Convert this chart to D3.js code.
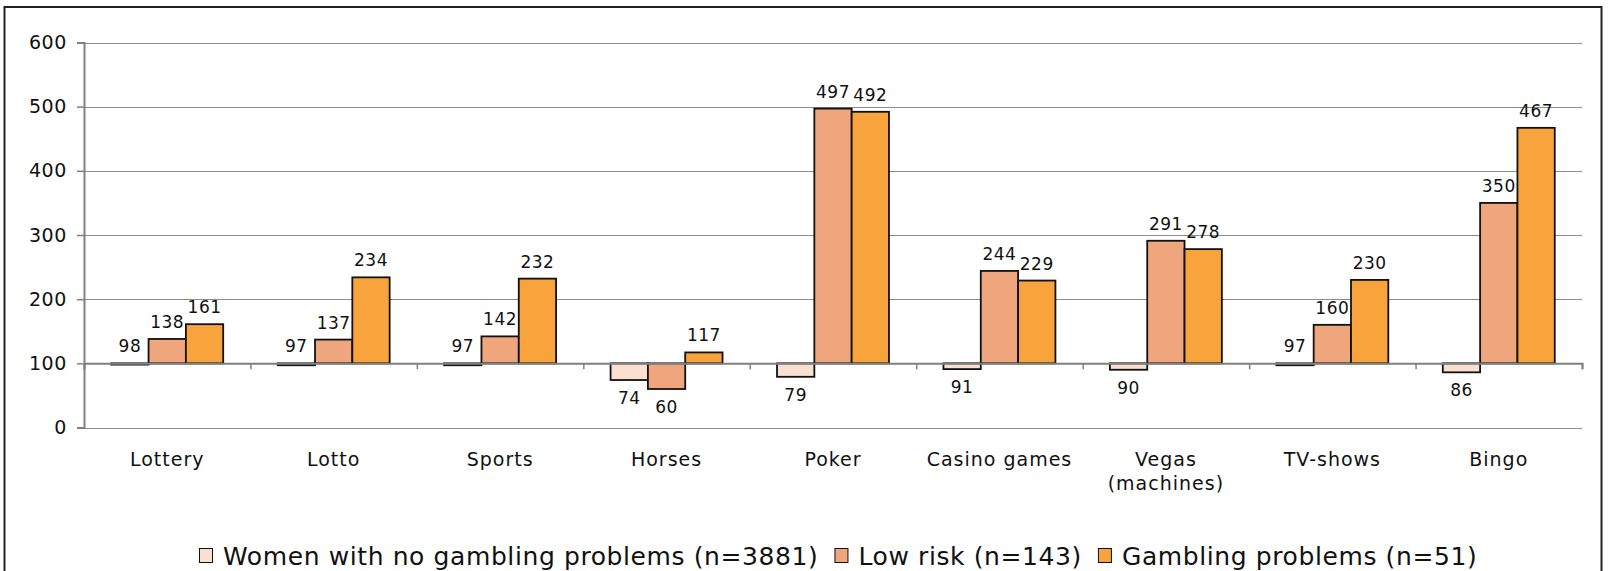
<!DOCTYPE html>
<html>
<head>
<meta charset="utf-8">
<script src="https://cdn.jsdelivr.net/npm/d3@7"></script>
<style>
  html, body { margin: 0; padding: 0; background: #fff; }
  svg { display: block; font-family: "DejaVu Sans", Verdana, sans-serif; }
</style>
</head>
<body>
<svg id="chart" width="1609" height="571"></svg>
<script>
// Gambling activity index by group (100 = baseline)
const categories = ["Lottery", "Lotto", "Sports", "Horses", "Poker", "Casino games", "Vegas\n(machines)", "TV-shows", "Bingo"];
const seriesNames = ["Women with no gambling problems (n=3881)", "Low risk (n=143)", "Gambling problems (n=51)"];
const noProblems = [98, 97, 97, 74, 79, 91, 90, 97, 86];
const lowRisk = [138, 137, 142, 60, 497, 244, 291, 160, 350];
const gamblingProblems = [161, 234, 232, 117, 492, 229, 278, 230, 467];
const yTicks = [0, 100, 200, 300, 400, 500, 600];
const baseline = 100;

const seriesValues = [noProblems, lowRisk, gamblingProblems];
const colors = ["#FBE0D2", "#EFA67C", "#F9A33D"];

const svg = d3.select("#chart");
const plot = { left: 84, right: 1582, top: 42.5, bottom: 427.5 };

// outer frame (open at the bottom edge of the view)
svg.append("rect")
  .attr("x", 4.5).attr("y", 7).attr("width", 1597).attr("height", 600)
  .attr("fill", "none").attr("stroke", "#222").attr("stroke-width", 2);

const x0 = d3.scaleBand().domain(d3.range(categories.length))
  .range([plot.left, plot.right]).paddingInner(0).paddingOuter(0);
const x1 = d3.scaleBand().domain(d3.range(seriesValues.length))
  .range([0, x0.bandwidth()]).paddingInner(0).paddingOuter(0.73);
const y = d3.scaleLinear().domain([0, 600]).range([plot.bottom, plot.top]);

// gridlines
svg.append("g").selectAll("line")
  .data(yTicks.filter(t => t !== baseline))
  .join("line")
  .attr("x1", plot.left).attr("x2", plot.right)
  .attr("y1", d => Math.round(y(d)) + 0.5).attr("y2", d => Math.round(y(d)) + 0.5)
  .attr("stroke", "#8c8c8c").attr("stroke-width", 1);

// y axis
const yAxis = svg.append("g")
  .attr("transform", `translate(${plot.left},0)`)
  .call(d3.axisLeft(y).tickValues(yTicks).tickSize(7).tickPadding(10).tickFormat(d3.format("d")));
yAxis.select(".domain").attr("stroke", "#808080").attr("stroke-width", 2);
yAxis.selectAll(".tick line").attr("stroke", "#808080").attr("stroke-width", 1.5);
yAxis.selectAll(".tick text")
  .attr("fill", "#111")
  .style("font-size", "19px")
  .style("letter-spacing", "0.6px")
  .style("font-family", "DejaVu Sans, Verdana, sans-serif");

// bars drawn from the baseline of 100
const groups = svg.append("g").selectAll("g")
  .data(categories.map((c, i) => ({ c, i })))
  .join("g")
  .attr("transform", d => `translate(${x0(d.i)},0)`);

const barData = d => seriesValues.map((vals, s) => ({ s, v: vals[d.i] }));

groups.selectAll("rect")
  .data(barData)
  .join("rect")
  .attr("x", d => x1(d.s))
  .attr("width", x1.bandwidth())
  .attr("y", d => y(Math.max(d.v, baseline)))
  .attr("height", d => Math.max(Math.abs(y(d.v) - y(baseline)), 0.01))
  .attr("fill", d => colors[d.s])
  .attr("stroke", "#111").attr("stroke-width", 1.8);

// horizontal axis crossing at 100
const xb = d3.scaleLinear().domain([0, categories.length]).range([plot.left, plot.right]);
const xAxis = svg.append("g")
  .attr("transform", `translate(0,${y(baseline)})`)
  .call(d3.axisBottom(xb).ticks(categories.length).tickSize(6).tickFormat(""));
xAxis.select(".domain").attr("stroke", "#808080").attr("stroke-width", 2);
xAxis.selectAll(".tick line").attr("stroke", "#808080").attr("stroke-width", 1.5);

// value labels: above the bar, or below it when the bar drops clearly under 100
groups.selectAll("text.val")
  .data(barData)
  .join("text")
  .attr("class", "val")
  .attr("x", d => x1(d.s) + x1.bandwidth() / 2)
  .attr("y", d => {
    const h = y(baseline) - y(d.v);
    if (h > -3) return y(Math.max(d.v, baseline)) - 11;
    return y(d.v) + 24;
  })
  .attr("text-anchor", "middle")
  .attr("fill", "#111")
  .style("font-size", "17px")
  .style("letter-spacing", "0.5px")
  .text(d => d.v);

// category labels
svg.append("g").selectAll("text")
  .data(categories.map((c, i) => ({ c, i })))
  .join("text")
  .attr("x", d => x0(d.i) + x0.bandwidth() / 2)
  .attr("y", 466)
  .attr("text-anchor", "middle")
  .attr("fill", "#111")
  .style("font-size", "19px")
  .style("letter-spacing", "1px")
  .each(function (d) {
    const lines = d.c.split("\n");
    d3.select(this).selectAll("tspan").data(lines).join("tspan")
      .attr("x", x0(d.i) + x0.bandwidth() / 2)
      .attr("dy", (l, k) => k === 0 ? 0 : 24)
      .text(l => l);
  });

// legend
const legend = svg.append("g");
let lx = 199;
seriesNames.forEach((name, s) => {
  legend.append("rect")
    .attr("x", lx + 0.5).attr("y", 548.5).attr("width", 13).attr("height", 14)
    .attr("fill", colors[s]).attr("stroke", "#111").attr("stroke-width", 1);
  const t = legend.append("text")
    .attr("x", lx + 24).attr("y", 564.5)
    .attr("fill", "#111")
    .style("font-size", "25px")
    .style("letter-spacing", "0.6px")
    .text(name);
  lx = lx + 24 + t.node().getComputedTextLength() + 16;
});
</script>
</body>
</html>
